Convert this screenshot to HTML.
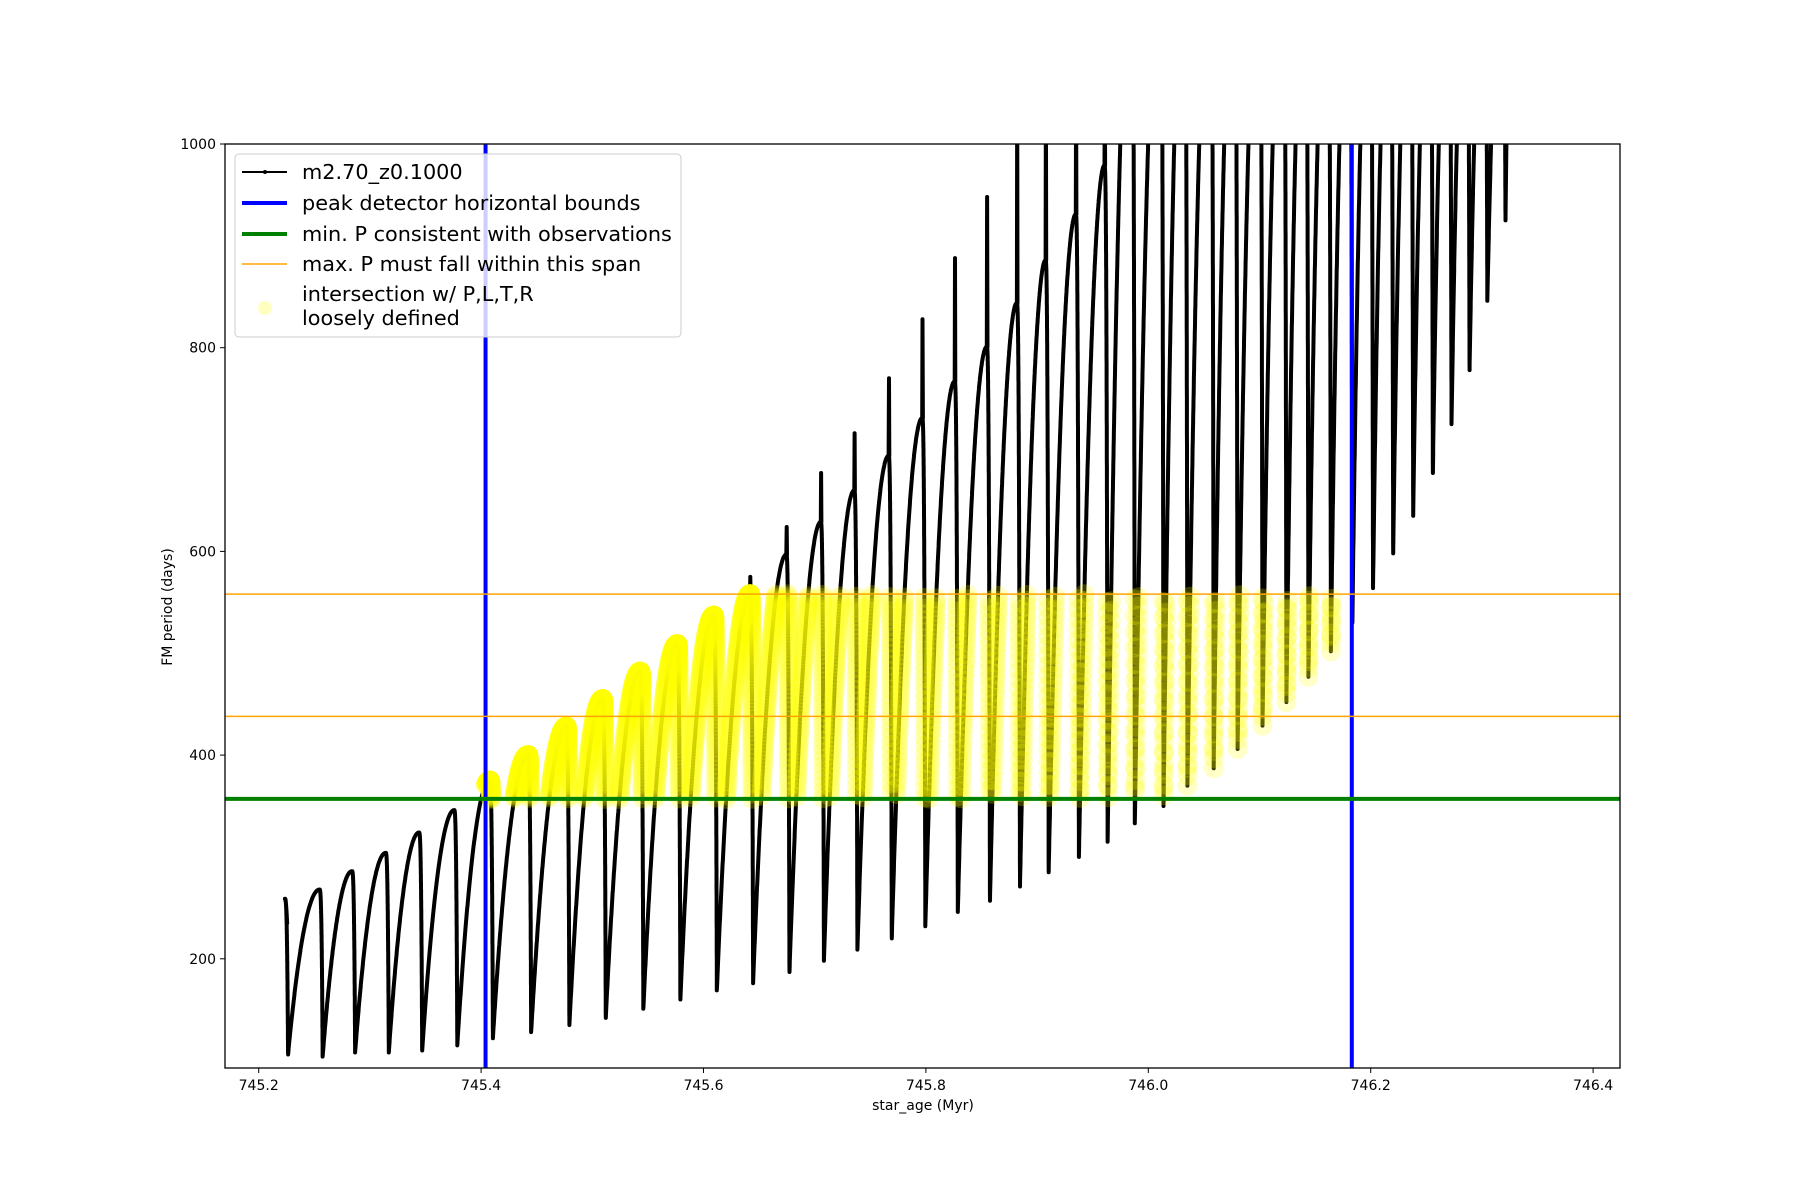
<!DOCTYPE html>
<html><head><meta charset="utf-8">
<style>
html,body{margin:0;padding:0;background:#fff;}
svg{display:block;font-family:"DejaVu Sans","Liberation Sans",sans-serif;}
</style></head>
<body>
<svg id="chart" width="1800" height="1200" viewBox="0 0 1800 1200" xmlns="http://www.w3.org/2000/svg">
<rect x="0" y="0" width="1800" height="1200" fill="#fff"/>
<defs><clipPath id="plotclip"><rect x="225" y="144" width="1395" height="924"/></clipPath></defs>
<g id="plot" clip-path="url(#plotclip)"></g>
<rect x="225" y="144" width="1395" height="924" fill="none" stroke="#000" stroke-width="1.3"/>
<g id="axes"></g>
<text x="923" y="1110" font-size="14" text-anchor="middle">star_age (Myr)</text>
<text x="0" y="0" font-size="14" text-anchor="middle" transform="translate(172,607) rotate(-90)">FM period (days)</text>
<g id="legend">
<rect x="235" y="154" width="446" height="183" rx="4" fill="#fff" fill-opacity="0.8" stroke="#ccc" stroke-width="1"/>
<g><line x1="242" y1="172" x2="287" y2="172" stroke="#000" stroke-width="2"/><circle cx="265" cy="172" r="2" fill="#000"/><text x="302" y="179" font-size="20.8">m2.70_z0.1000</text></g>
<g><line x1="242" y1="203" x2="287" y2="203" stroke="#0000ff" stroke-width="4"/><text x="302" y="210" font-size="20.8">peak detector horizontal bounds</text></g>
<g><line x1="242" y1="234" x2="287" y2="234" stroke="#008000" stroke-width="4"/><text x="302" y="241" font-size="20.8">min. P consistent with observations</text></g>
<g><line x1="242" y1="264" x2="287" y2="264" stroke="#ffa500" stroke-width="1.5"/><text x="302" y="271" font-size="20.8">max. P must fall within this span</text></g>
<g><circle cx="265" cy="308" r="7" fill="#ffff00" fill-opacity="0.25"/><text x="302" y="301" font-size="20.8">intersection w/ P,L,T,R</text><text x="302" y="325" font-size="20.8">loosely defined</text></g>
</g>
</svg>
<script>
// ---- data ----
const dropAge = [745.2264,745.2575,745.2867,745.317,745.347,745.3786,745.4106,745.445,745.4794,745.5121,745.5459,745.5792,745.612,745.6446,745.6773,745.7083,745.7384,745.7693,745.7995,745.8287,745.8576,745.8846,745.9104,745.9376,745.9634,745.9879,746.0137,746.0352,746.0588,746.0803,746.1027,746.1242,746.144,746.1642,746.1835,746.2021,746.2202,746.2382,746.2559,746.2727,746.2889,746.3049,746.3212];
const peakP = [259,268,286,304,324,346,375,400,428,455,482,509,537,558,597,629,660,694,731,767,801,844,886,931,979,1200,1200,1200,1200,1200,1200,1200,1200,1200,1200,1200,1200,1200,1200,1200,1200,1200,1200];
const spikeP = [259,268,286,304,324,346,375,400,428,455,482,509,537,575,624,677,716,770,828,888,948,1100,1100,1100,1100,1200,1200,1200,1200,1200,1200,1200,1200,1200,1200,1200,1200,1200,1200,1200,1200,1200,1200];
const minP = [106,104,108,108,110,115,122,128,135,142,151,160,169,176,187,198,209,220,232,246,257,271,285,300,315,333,350,370,387,406,429,452,477,502,530,564,598,635,677,725,778,846,925];
const startAge = 745.2256, startP = 234;
const boundsAge = [745.404, 746.183];
const minObsP = [357];
const maxSpanP = [438, 558];
const xTicks = [745.2,745.4,745.6,745.8,746.0,746.2,746.4];
const xTickLabels = ["745.2","745.4","745.6","745.8","746.0","746.2","746.4"];
const yTicks = [200,400,600,800,1000];
const yTickLabels = ["200","400","600","800","1000"];

// ---- axes ----
const X = a => 258.7 + (a - 745.2) * 1112;
const Y = p => 144 + (1000 - p) * 1.0185;
const NS = "http://www.w3.org/2000/svg";
const plot = document.getElementById('plot');
const axes = document.getElementById('axes');
function mk(tag, attrs, parent){ const e=document.createElementNS(NS,tag); for(const k in attrs) e.setAttribute(k,attrs[k]); parent.appendChild(e); return e; }

const pts = [];
pts.push([startAge, startP]);
const delta = 0.0028;
for (let i = 0; i < dropAge.length; i++) {
  const a0 = i === 0 ? startAge : dropAge[i-1];
  const p0 = i === 0 ? startP : minP[i-1];
  const a1 = dropAge[i] - delta;
  const n = 160;
  for (let k = 1; k <= n; k++) {
    const u = k / n;
    pts.push([a0 + (a1 - a0) * u, p0 + (peakP[i] - p0) * (1 - (1 - u) * (1 - u))]);
  }
  if (spikeP[i] > peakP[i]) {
    pts.push([a1 + delta*0.1, spikeP[i]]);
    pts.push([a1 + delta*0.2, peakP[i]]);
  }
  const m = 140;
  for (let k = 1; k <= m; k++) {
    const u = k / m;
    pts.push([a1 + delta * u, peakP[i] + (minP[i] - peakP[i]) * Math.pow(u, 3)]);
  }
}
pts.push([dropAge[dropAge.length-1] + 0.0008, 1000]);

// black series
let d = '';
pts.forEach(([a,p], i) => { d += (i ? 'L' : 'M') + X(a).toFixed(1) + ',' + Y(Math.min(p, 1060)).toFixed(1); });
const series = mk('path', {d: d, fill: 'none', stroke: '#000', 'stroke-width': 4, 'stroke-linejoin': 'round'}, plot);



// yellow intersection markers
const yg = mk('g', {}, plot);


for (const [a, p] of pts) {
  if (a >= boundsAge[0] && a <= boundsAge[1] && p >= minObsP[0] && p <= maxSpanP[1]) {
    const c = mk('circle', {cx: X(a).toFixed(1), cy: Y(p).toFixed(1), r: 10, fill: '#ffff00', 'fill-opacity': 0.22}, yg);
    
    
  }
}

// reference lines
boundsAge.forEach(a => {
  const l = mk('line', {x1: X(a), x2: X(a), y1: 144, y2: 1068, stroke: '#0000ff', 'stroke-width': 4}, plot);
  
  
});
minObsP.forEach(p => {
  const l = mk('line', {x1: 225, x2: 1620, y1: Y(p), y2: Y(p), stroke: '#008000', 'stroke-width': 4}, plot);
  
  
});
maxSpanP.forEach(p => {
  const l = mk('line', {x1: 225, x2: 1620, y1: Y(p), y2: Y(p), stroke: '#ffa500', 'stroke-width': 1.5}, plot);
  
  
});

// ticks
xTicks.forEach((t, i) => {
  const x = X(t);
  const tk = mk('line', {x1: x, x2: x, y1: 1068, y2: 1073, stroke: '#000', 'stroke-width': 1}, axes);
  
  
  const tl = mk('text', {x: x, y: 1090, 'font-size': 14, 'text-anchor': 'middle'}, axes);
  tl.textContent = xTickLabels[i];
  
  
});
yTicks.forEach((t, i) => {
  const y = Y(t);
  const tk = mk('line', {x1: 220, x2: 225, y1: y, y2: y, stroke: '#000', 'stroke-width': 1}, axes);
  
  
  const tl = mk('text', {x: 216, y: y + 5, 'font-size': 14, 'text-anchor': 'end'}, axes);
  tl.textContent = yTickLabels[i];
  
  
});
</script>
</body></html>
